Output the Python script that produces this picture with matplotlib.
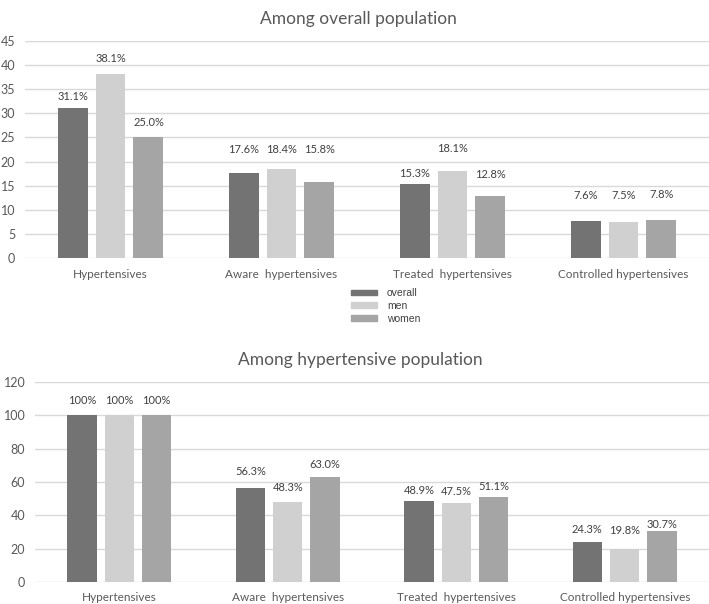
import numpy as np
import matplotlib
matplotlib.use("Agg")
from matplotlib import pyplot as plt

categories = ["Hypertensives", "Aware  hypertensives", "Treated  hypertensives", "Controlled hypertensives"]
series = ["overall", "men", "women"]

overall_pop = {
    "overall": [31.1, 17.6, 15.3, 7.6],
    "men": [38.1, 18.4, 18.1, 7.5],
    "women": [25.0, 15.8, 12.8, 7.8],
}
overall_labels = {
    "overall": ["31.1%", "17.6%", "15.3%", "7.6%"],
    "men": ["38.1%", "18.4%", "18.1%", "7.5%"],
    "women": ["25.0%", "15.8%", "12.8%", "7.8%"],
}
hyper_pop = {
    "overall": [100, 56.3, 48.9, 24.3],
    "men": [100, 48.3, 47.5, 19.8],
    "women": [100, 63.0, 51.1, 30.7],
}
hyper_labels = {
    "overall": ["100%", "56.3%", "48.9%", "24.3%"],
    "men": ["100%", "48.3%", "47.5%", "19.8%"],
    "women": ["100%", "63.0%", "51.1%", "30.7%"],
}

# label lift above bar tops, in pixels (labels were hand placed in the original)
lift_top = {"overall": [12, 24, 11, 26], "men": [16, 20, 22, 26], "women": [15, 32, 22, 26]}
lift_bot = {"overall": [15, 17, 10, 12], "men": [15, 14, 11, 19], "women": [15, 13, 10, 6]}

colors = {"overall": "#737373", "men": "#d0d0d0", "women": "#a5a5a5"}
txt = "#595959"

plt.rcParams["font.family"] = ["Lato", "DejaVu Sans"]

fig = plt.figure(figsize=(7.09, 6.04), dpi=100)
ax1 = fig.add_axes([25 / 709, 1 - 258 / 604, 684 / 709, 217 / 604])
ax2 = fig.add_axes([35 / 709, 1 - 582 / 604, 674 / 709, 200 / 604])


def draw(ax, data, labels, lifts, ymax, step, title, tx, xpad):
    x = np.arange(len(categories))
    width = 0.175
    gap = 0.222
    for i, s in enumerate(series):
        xs = x + (i - 1) * gap
        ax.bar(xs, data[s], width, color=colors[s], zorder=3, label=s)
        for xv, yv, lab, lf in zip(xs, data[s], labels[s], lifts[s]):
            ax.annotate(lab, (xv, yv), xytext=(0, lf * 0.72), textcoords="offset points",
                        ha="center", va="center", fontsize=8, color="#404040")
    ax.set_xlim(-0.5, len(categories) - 0.5)
    ax.set_ylim(0, ymax)
    ax.set_yticks(np.arange(0, ymax + 1, step))
    ax.yaxis.grid(True, color="#d9d9d9", linewidth=1, zorder=0)
    for sp in ax.spines.values():
        sp.set_visible(False)
    ax.set_xticks(x)
    ax.set_xticklabels(categories)
    ax.tick_params(axis="both", length=0, colors=txt)
    ax.tick_params(axis="x", pad=xpad, labelsize=8.5)
    ax.tick_params(axis="y", pad=7, labelsize=9)
    ax.set_title(title, color=txt, fontsize=12.5, pad=12, x=tx)


draw(ax1, overall_pop, overall_labels, lift_top, 45, 5, "Among overall population", 0.487, 8)
draw(ax2, hyper_pop, hyper_labels, lift_bot, 120, 20, "Among hypertensive population", 0.482, 7)

handles = [plt.Rectangle((0, 0), 1, 1, color=colors[s]) for s in series]
fig.legend(handles, series, loc="upper left", bbox_to_anchor=(342 / 709, 1 - 279 / 604),
           frameon=False, prop={"family": ["Liberation Sans", "DejaVu Sans"], "size": 7.5},
           labelcolor="#404040", handlelength=2.5,
           handleheight=0.45, labelspacing=0.25, handletextpad=0.9)

fig.savefig("out.png", dpi=100)
